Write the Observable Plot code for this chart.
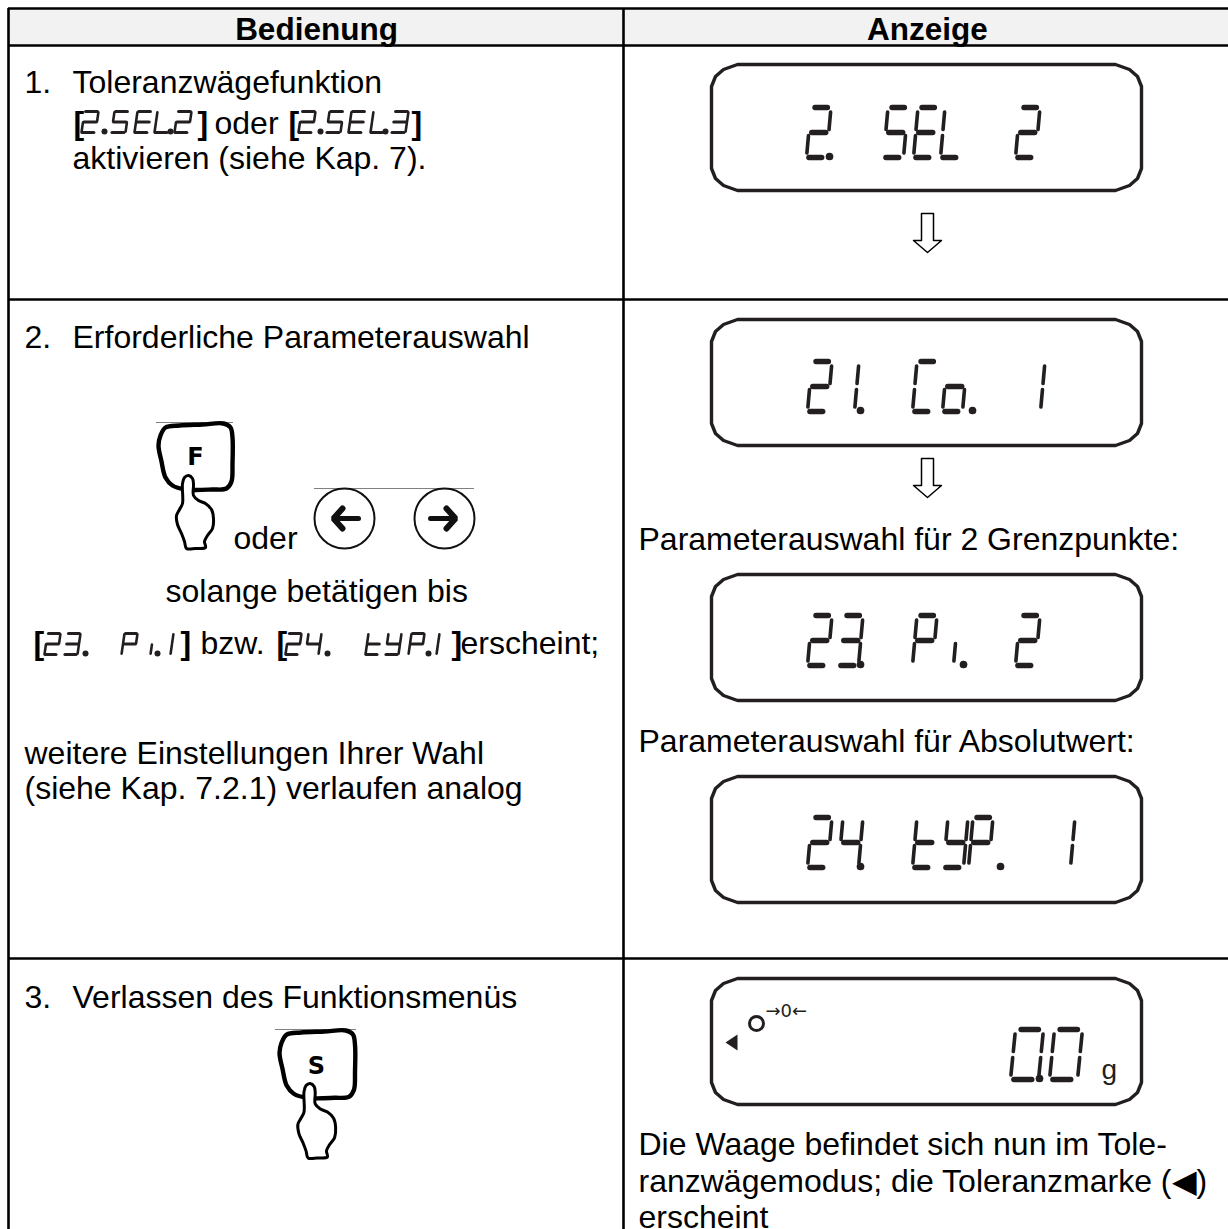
<!DOCTYPE html>
<html><head><meta charset="utf-8">
<script src="https://cdn.jsdelivr.net/npm/d3@7"></script>
<script src="https://cdn.jsdelivr.net/npm/@observablehq/plot@0.6"></script>
<style>html,body{margin:0;padding:0;background:#fff}svg{display:block}</style>
</head><body><div id="chart"></div>
<script>
// ---- content ----
const headers = ["Bedienung", "Anzeige"];
const leftLines = ["1.", "Toleranzwägefunktion", "aktivieren (siehe Kap. 7).", "oder", "2.", "Erforderliche Parameterauswahl", "oder",
  "solange betätigen bis", "bzw.", "erscheint;", "weitere Einstellungen Ihrer Wahl", "(siehe Kap. 7.2.1) verlaufen analog", "3.", "Verlassen des Funktionsmenüs"];
const rightLines = ["Parameterauswahl für 2 Grenzpunkte:", "Parameterauswahl für Absolutwert:",
  "Die Waage befindet sich nun im Tole-", "ranzwägemodus; die Toleranzmarke (◀)", "erscheint"];
const displays = ["2.SEL2", "21.Co.1", "23.Pi.2", "24.tYP.1", "0.0"];
const inlineCodes = ["2.SEL.2", "2.SEL.3", "23.Pi.1", "24.tYP.1"];
const brackets = ["[", "]", "[", "]", "[", "]", "[", "]"];
const keys = ["F", "S"];
const unitLabels = ["g", "→0←"];

// ---- layout (separate from content) ----
const leftPos = [[24,92],[72,92],[72,168],[214,133],[24,347],[72,347],[233,548],[165,601],[200,653],[460,653],[24,763],[24,798],[24,1007],[72,1007]];
const rightPos = [[638,549],[638,751],[638,1154],[638,1191],[638,1227]];
const displayX = [[806,829,883,913,940,1015],[807,834,860,912,942,972,1020],[807,838,860,912,933,963,1015],[807,838,860,912,943,968,1000,1050],[1010,1039,1049]];
const displayTop = [107,361,615,817,1029];
const boxTop = [64,319,574,776,978];
const inlineX = [[81,104,111,134,154,170,174],[298,320,326,348,370,385,391],[44,64,85,121,137,157,157],[285,305,327,365,385,408,428,423]];
const inlineTop = [111,111,633,633];
const bracketPos = [[73,133],[197,133],[288,133],[411,133],[33,653],[180,653],[276,653],[451,653]];
const arrowTop = [213,458];
const W = 1228, H = 1229;

// ---- geometry helpers ----
const bigSegs = {a:[[.2,0],[.82,0]],b:[[1,.09],[1,.44]],c:[[1,.56],[1,.91]],d:[[.12,1],[.76,1]],e:[[0,.56],[0,.91]],f:[[0,.09],[0,.44]],g:[[.15,.5],[.85,.5]]};
const smallSegs = {a:[[.08,0],[.92,0]],b:[[1,.04],[1,.47]],c:[[1,.53],[1,.96]],d:[[.04,1],[.88,1]],e:[[0,.53],[0,.96]],f:[[0,.04],[0,.47]],g:[[.06,.5],[.94,.5]]};
const glyphs = {"2":"abged","3":"abgcd","4":"fgbc","5":"afgcd","S":"afgcd","E":"afged","L":"fed","1":"bc","i":"c","C":"afed","o":"gcde","P":"abfge","t":"fged","Y":"fgbcd","0":"abcdef"};
let sid = 0;
function glyphRows(str, xs, top, w, h, sl, thick, thin, dotR, defs, out, dots) {
  [...str].forEach((ch, i) => {
    if (ch === ".") { dots.push({x: xs[i], y: top + h - 1, r: dotR}); return; }
    for (const s of glyphs[ch]) {
      const id = sid++;
      const horiz = "adg".includes(s);
      for (const [u, v] of defs[s]) out.push({x: xs[i] + u * w + (1 - v) * sl, y: top + v * h, id, sw: horiz ? thick : thin});
    }
  });
}
const segRows = [], dotRows = [];
displays.forEach((d, i) => {
  const big = i === 4;
  glyphRows(d, displayX[i], displayTop[i], big ? 28 : 20, 50, big ? 5 : 4.5, 5.4, 3.6, 1.8, bigSegs, segRows, dotRows);
});
inlineCodes.forEach((d, i) => glyphRows(d, inlineX[i], inlineTop[i], i < 2 ? 14 : 13, 21, 3, 3.2, 2.6, 1.1, smallSegs, segRows, dotRows));

function boxOutline(top, id) {
  const x0 = 711, x1 = 1141, y0 = top, y1 = top + 126;
  return [[x0,y0+22],[x0+4,y0+12],[x0+12,y0+5],[x0+26,y0],[x1-26,y0],[x1-12,y0+5],[x1-4,y0+12],[x1,y0+22],
          [x1,y1-22],[x1-4,y1-12],[x1-12,y1-5],[x1-26,y1],[x0+26,y1],[x0+12,y1-5],[x0+4,y1-12],[x0,y1-22],[x0,y0+22]]
    .map(([x,y]) => ({x,y,id}));
}
const boxRows = boxTop.flatMap((t,i) => boxOutline(t,i));

function arrowOutline(top, id, cx = 927) {
  return [[cx-6,top],[cx+6,top],[cx+6,top+27],[cx+14,top+27],[cx,top+39],[cx-14,top+27],[cx-6,top+27],[cx-6,top]].map(([x,y]) => ({x,y,id}));
}
const arrowRows = arrowTop.flatMap((t,i) => arrowOutline(t,i));

// key + hand outlines in a local frame whose origin is the key's top left
const keyShape = [[3,12],[8,4],[22,2],[45,1],[66,0],[73,4],[75,14],[75,40],[74,58],[69,65],[55,66],[28,66],[15,62],[8,54],[4,38],[1,22]];
const handShape = [[25,80],[25,60],[27,54],[31,52],[35,55],[36,61],[36,72],[41,77],[48,80],[54,86],[56,95],[55,105],[50,112],[47,118],[48,124],[38,125],[29,125],[27,118],[24,110],[20,101],[19,92],[22,86]];
const keyFrames = [{x:157,y:423,s:1},{x:278,y:1030,s:1.02}];
const placed = (shape, f, id) => shape.map(([x,y]) => ({x:f.x+x*f.s, y:f.y+y*f.s, id}));
const keyRows = keyFrames.flatMap((f,i) => placed(keyShape,f,i));
const handRows = keyFrames.flatMap((f,i) => placed(handShape,f,i));
const triangleRows = [{x:737,y:1034},{x:737,y:1050},{x:725,y:1042},{x:737,y:1034}];

// direction buttons
const circleRows = [{x:344,y:518},{x:444,y:518}];
const shaftRows = [{x:358,y:518,id:0},{x:338,y:518,id:0},{x:430,y:518,id:1},{x:450,y:518,id:1}];
const headRows = [{x:342,y:508,id:0},{x:333,y:518,id:0},{x:342,y:528,id:0},{x:446,y:508,id:1},{x:455,y:518,id:1},{x:446,y:528,id:1}];
const hairRows = [{x1:156,x2:233,y:422},{x1:314,x2:474,y:488},{x1:275,x2:356,y:1029}];

const SANS = "Liberation Sans";
const FS = 32;
const textOpts = {x:"x", y:"y", text:"t", textAnchor:"start", lineAnchor:"bottom", fontFamily:SANS, fontSize:FS, fill:"#000"};
const T = (strs, pos) => strs.map((t,i) => ({t, x:pos[i][0], y:pos[i][1]}));

const chart = Plot.plot({
  width: W, height: H, margin: 0,
  x: {domain:[0,W], range:[0,W], axis:null},
  y: {domain:[0,H], range:[0,H], axis:null},
  style: {background:"#fff"},
  marks: [
    // table
    Plot.rect([{x1:8,x2:W,y1:8,y2:45}], {x1:"x1",x2:"x2",y1:"y1",y2:"y2",fill:"#f2f2f2"}),
    Plot.ruleY([{y:8},{y:45},{y:299},{y:958}], {y:"y",x1:8,x2:W,stroke:"#000",strokeWidth:2.6}),
    Plot.ruleX([{x:8},{x:623}], {x:"x",y1:8,y2:H,stroke:"#000",strokeWidth:2.6}),
    // headers
    Plot.text(T(headers,[[316,39],[927,39]]), {...textOpts, textAnchor:"middle", fontWeight:"bold", fontSize:31.5}),
    // body text
    Plot.text(T(leftLines,leftPos), textOpts),
    Plot.text(T(rightLines,rightPos), textOpts),
    Plot.text(T(brackets,bracketPos), {...textOpts, fontWeight:"bold"}),
    // lcd panels
    Plot.line(boxRows, {x:"x",y:"y",z:"id",stroke:"#231f20",strokeWidth:3.4}),
    Plot.line(arrowRows, {x:"x",y:"y",z:"id",stroke:"#000",strokeWidth:1.5,fill:"#fff"}),
    Plot.line(segRows, {x:"x",y:"y",z:"id",stroke:"#231f20",strokeWidth:"sw",strokeLinecap:"round"}),
    Plot.dot(dotRows, {x:"x",y:"y",r:"r",fill:"#231f20"}),
    // last panel extras
    Plot.line(triangleRows, {x:"x",y:"y",fill:"#231f20",stroke:"none"}),
    Plot.dot([{x:756,y:1023}], {x:"x",y:"y",r:7,stroke:"#231f20",strokeWidth:3,fill:"none"}),
    Plot.text(T([unitLabels[0]],[[1101,1078]]), {...textOpts, fontSize:28, fill:"#231f20"}),
    Plot.text(T([unitLabels[1]],[[765,1016]]), {...textOpts, fontFamily:"DejaVu Sans", fontSize:18, fill:"#231f20"}),
    // keys
    Plot.ruleY(hairRows, {y:"y",x1:"x1",x2:"x2",stroke:"#808080",strokeWidth:1}),
    Plot.line(keyRows, {x:"x",y:"y",z:"id",curve:"catmull-rom-closed",stroke:"#000",strokeWidth:4.4,fill:"#fff"}),
    Plot.text(T(keys,[[195,457],[316,1066]]), {...textOpts, textAnchor:"middle", lineAnchor:"middle", fontFamily:"DejaVu Sans", fontWeight:"bold", fontSize:24}),
    Plot.line(handRows, {x:"x",y:"y",z:"id",curve:"catmull-rom-closed",stroke:"#000",strokeWidth:3,fill:"#fff"}),
    // direction buttons
    Plot.dot(circleRows, {x:"x",y:"y",r:30,stroke:"#111",strokeWidth:2,fill:"#fff"}),
    Plot.line(shaftRows, {x:"x",y:"y",z:"id",stroke:"#111",strokeWidth:5}),
    Plot.line(headRows, {x:"x",y:"y",z:"id",stroke:"#111",strokeWidth:6,strokeLinejoin:"miter"})
  ]
});
document.getElementById("chart").append(chart);
</script></body></html>
